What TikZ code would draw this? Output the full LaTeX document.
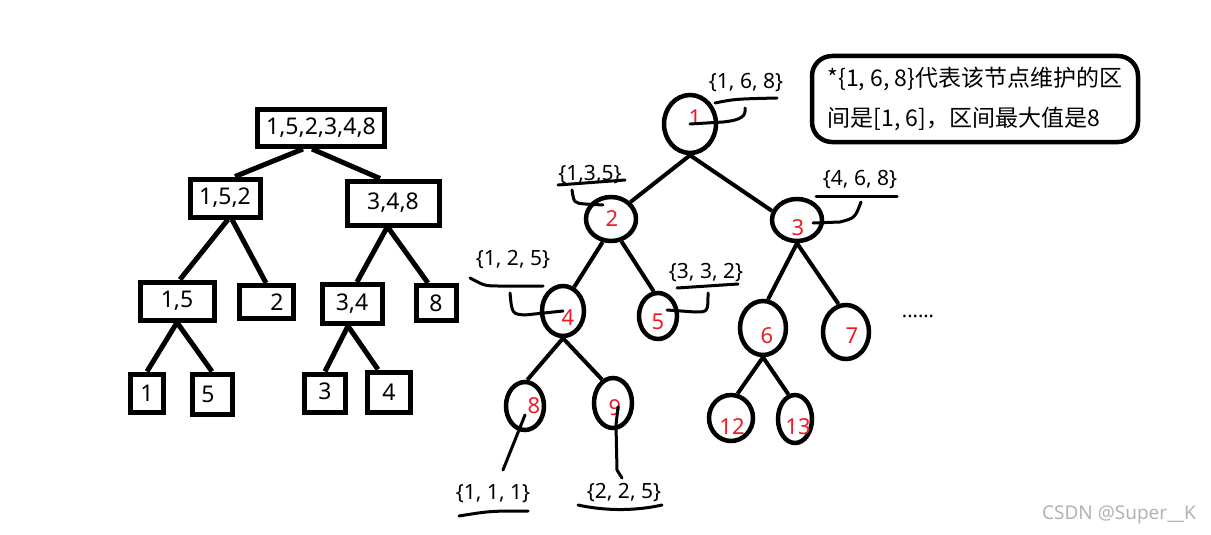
\documentclass[tikz,border=0pt]{standalone}
\usepackage{fontspec}
\setmainfont{Noto Sans}
\newfontfamily\cjk{Noto Sans CJK SC}
\usetikzlibrary{shapes.geometric}

\definecolor{segred}{RGB}{237,28,36}
\tikzstyle{segbox} = [draw, line width=5pt, rectangle, inner sep=0pt, font=\fontsize{23}{27}\selectfont]
\tikzstyle{segnode} = [draw, line width=4.5pt, ellipse, inner sep=0pt]
\tikzstyle{segnum} = [text=segred, inner sep=0pt, font=\fontsize{22}{26}\selectfont]
\tikzstyle{segedge} = [line width=5pt]
\tikzstyle{treeedge} = [line width=4pt]
\tikzstyle{info} = [inner sep=0pt, font=\fontsize{21}{25}\selectfont]
\tikzstyle{hand} = [line width=3pt, line cap=round, line join=round]
\tikzstyle{notebox} = [draw, line width=4.5pt, rounded corners=20pt, minimum width=326pt, minimum height=86pt, align=left, font=\cjk\fontsize{23}{40}\selectfont]

\begin{document}
\begin{tikzpicture}[x=1pt, y=-1pt]
	\useasboundingbox (0,0) rectangle (1211,535);

	\node[segbox, minimum width=127pt, minimum height=37pt] (all) at (321,128) {1,5,2,3,4,8};
	\node[segbox, minimum width=70pt, minimum height=38pt] (l) at (225,198) {1,5,2};
	\node[segbox, minimum width=92pt, minimum height=44pt] (r) at (393,203) {3,4,8\hspace{20pt}};
	\node[segbox, minimum width=74pt, minimum height=38pt] (ll) at (177,301) {1,5};
	\node[segbox, minimum width=54pt, minimum height=33pt] (lr) at (266,302) {\hspace{22pt}2};
	\node[segbox, minimum width=60pt, minimum height=39pt] (rl) at (352,304) {\raisebox{-3pt}{3,4}};
	\node[segbox, minimum width=40pt, minimum height=35pt] (rr) at (436,303) {8};
	\node[segbox, minimum width=33pt, minimum height=38pt] (lll) at (147,393) {1};
	\node[segbox, minimum width=40pt, minimum height=40pt] (llr) at (212,394) {\hspace{-8pt}5};
	\node[segbox, minimum width=41pt, minimum height=38pt] (rll) at (325,393) {\raisebox{4pt}{3}};
	\node[segbox, minimum width=43pt, minimum height=40pt] (rlr) at (389,392) {4};

	\draw[segedge] ([xshift=-18pt]all.south) -- ([xshift=10pt]l.north);
	\draw[segedge] ([xshift=-9pt]all.south) -- ([xshift=-13pt]r.north);
	\draw[segedge] ([xshift=3pt]l.south) -- ([xshift=3pt]ll.north);
	\draw[segedge] ([xshift=7pt]l.south) -- (lr.north);
	\draw[segedge] ([xshift=-6pt]r.south) -- ([xshift=5pt]rl.north);
	\draw[segedge] ([xshift=-5pt]r.south) -- ([xshift=-8pt]rr.north);
	\draw[segedge] (ll.south) -- (lll.north);
	\draw[segedge] (ll.south) -- (llr.north);
	\draw[segedge] ([xshift=-4pt]rl.south) -- (rll.north);
	\draw[segedge] ([xshift=-4pt]rl.south) -- ([xshift=-11pt]rlr.north);

	\node[segnode, minimum width=52pt, minimum height=58pt] (n1) at (690,124) {};
	\node[segnode, minimum width=50pt, minimum height=44pt] (n2) at (611,219) {};
	\node[segnode, minimum width=50pt, minimum height=42pt] (n3) at (797,220) {};
	\node[segnode, minimum width=42pt, minimum height=50pt] (n4) at (563,311) {};
	\node[segnode, minimum width=38pt, minimum height=46pt] (n5) at (658,316) {};
	\node[segnode, minimum width=46pt, minimum height=54pt] (n6) at (763,328) {};
	\node[segnode, minimum width=46pt, minimum height=54pt] (n7) at (846,332) {};
	\node[segnode, minimum width=38pt, minimum height=48pt] (n8) at (525,406) {};
	\node[segnode, minimum width=38pt, minimum height=50pt] (n9) at (613,403) {};
	\node[segnode, minimum width=44pt, minimum height=46pt] (n12) at (731,418) {};
	\node[segnode, minimum width=34pt, minimum height=48pt] (n13) at (795,419) {};

	\draw[treeedge] (n1.south) -- (n2.41);
	\draw[treeedge] (n1.south) -- (n3.160);
	\draw[treeedge] (n2.250) -- (n4.65);
	\draw[treeedge] (n2.295) -- (n5.100);
	\draw[treeedge] (n3.south) -- (n6.80);
	\draw[treeedge] (n3.south) -- (n7.105);
	\draw[treeedge] (n4.south) -- (n8.85);
	\draw[treeedge] (n4.south) -- (n9.115);
	\draw[treeedge] (n6.south) -- (n12.75);
	\draw[treeedge] (n6.south) -- (n13.105);

	\node[segnum] (t1) at (695,118) {1};
	\node[segnum] (t2) at (612,219) {2};
	\node[segnum] (t3) at (798,228) {3};
	\node[segnum] (t4) at (568,318) {4};
	\node[segnum] (t5) at (658,322) {5};
	\node[segnum] (t6) at (767,336) {6};
	\node[segnum] (t7) at (852,336) {7};
	\node[segnum] (t8) at (534,406) {8};
	\node[segnum] (t9) at (615,408) {9};
	\node[segnum] (t12) at (732,427) {12};
	\node[segnum] (t13) at (798,427) {13};

	\node[info] (i1) at (746,83) {\{1, 6, 8\}};
	\node[info] (i2) at (590,175) {\{1,3,5\}};
	\node[info] (i3) at (860,180) {\{4, 6, 8\}};
	\node[info] (i4) at (513,260) {\{1, 2, 5\}};
	\node[info] (i5) at (706,273) {\{3, 3, 2\}};
	\node[info] (i8) at (493,494) {\{1, 1, 1\}};
	\node[info] (i9) at (624,493) {\{2, 2, 5\}};

	\draw[hand] (715,103) .. controls (735,99) .. (777,98);
	\draw[hand] (n1.center) -- (723,122) .. controls (742,120) and (746,116) .. (745,108);
	\draw[hand] (558,185) -- (625,180);
	\draw[hand] (572,190) .. controls (574,203) .. (585,204) -- (603,205);
	\draw[hand] (816,196) -- (897,196);
	\draw[hand] (813,223) -- (840,222) .. controls (855,218) .. (861,202);
	\draw[hand] (470,278) .. controls (485,286) .. (500,286) -- (543,286);
	\draw[hand] (510,293) .. controls (512,314) .. (525,315) -- (n4.center);
	\draw[hand] (677,288) -- (738,284);
	\draw[hand] (708,293) .. controls (708,312) .. (695,312) -- (667,310);
	\draw[hand] (525,415) -- (503,470);
	\draw[hand] (459,516) .. controls (490,511) .. (528,511);
	\draw[hand] (618,407) -- (616,425) -- (617,470) -- (622,478);
	\draw[hand] (578,505) .. controls (610,512) and (640,510) .. (662,505);

	\node[info, font=\fontsize{20}{24}\selectfont] (more) at (918,316) {......};

	\node[notebox] (note) at (975,99) {*\{1, 6, 8\}代表该节点维护的区\\间是[1, 6]，区间最大值是8};

	\node[text=black!30, font=\fontsize{19}{23}\selectfont] (mark) at (1119,515) {CSDN @Super\_\_K};
\end{tikzpicture}
\end{document}
